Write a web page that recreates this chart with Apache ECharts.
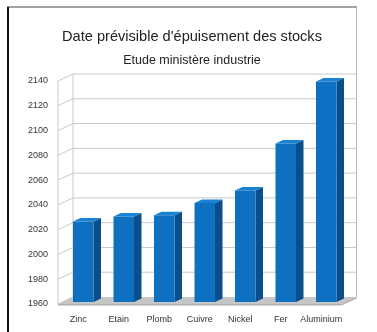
<!DOCTYPE html>
<html><head><meta charset="utf-8">
<script src="https://cdn.jsdelivr.net/npm/echarts@6/dist/echarts.min.js"></script>
<style>html,body{margin:0;padding:0;background:#fff}#c{width:377px;height:332px}</style>
</head><body><div id="c"></div>
<script>
const titleText = "Date prévisible d'épuisement des stocks";
const subtitleText = "Etude ministère industrie";
const categories = ['Zinc', 'Etain', 'Plomb', 'Cuivre', 'Nickel', 'Fer', 'Aluminium'];
const values = [2025, 2029, 2030, 2040, 2050, 2088, 2138];
const yTicks = [1960, 1980, 2000, 2020, 2040, 2060, 2080, 2100, 2120, 2140];

const FONT = 'Liberation Sans, Arial, sans-serif';
const WD = [15, -7];   // wall depth offset
const BF = [5, -2];    // bar front plane offset
const BD = [7.5, -3.5]; // bar depth
const yMin = yTicks[0], yMax = yTicks[yTicks.length - 1];

const chart = echarts.init(document.getElementById('c'), null, {renderer: 'canvas'});

function wallRender(params, api) {
  const cs = params.coordSys;
  const x0 = cs.x, x1 = cs.x + cs.width;
  const yB = api.coord([0, yMin])[1];
  const yT = api.coord([0, yMax])[1];
  const ch = [];
  const ls = {stroke: '#c9c9c9', lineWidth: 1};
  ch.push({type: 'polygon', shape: {points: [[x0, yB], [x1, yB], [x1 + WD[0], yB + WD[1]], [x0 + WD[0], yB + WD[1]]]},
    style: {fill: '#c6c6c6'}});
  ch.push({type: 'polygon', shape: {points: [[x0, yB], [x1, yB], [x1, yB + 1.5], [x0, yB + 1.5]]}, style: {fill: '#b0b0b0'}});
  ch.push({type: 'polygon', shape: {points: [[x1, yB], [x1 + WD[0], yB + WD[1]], [x1 + WD[0], yB + WD[1] + 1.5], [x1, yB + 1.5]]}, style: {fill: '#a8a8a8'}});
  ch.push({type: 'line', shape: {x1: x0, y1: yT, x2: x0, y2: yB}, style: ls});
  ch.push({type: 'line', shape: {x1: x0 + WD[0], y1: yT + WD[1], x2: x0 + WD[0], y2: yB + WD[1]}, style: ls});
  ch.push({type: 'line', shape: {x1: x1 + WD[0], y1: 7, x2: x1 + WD[0], y2: yB + WD[1]}, style: {stroke: '#b8b8b8', lineWidth: 1}});
  yTicks.forEach(function (t) {
    const y = api.coord([0, t])[1];
    ch.push({type: 'line', shape: {x1: x0, y1: y, x2: x0 + WD[0], y2: y + WD[1]}, style: ls});
    if (t > yMin) {
      ch.push({type: 'line', shape: {x1: x0 + WD[0], y1: y + WD[1], x2: x1 + WD[0], y2: y + WD[1]}, style: ls});
    }
  });
  return {type: 'group', children: ch};
}

function barRender(params, api) {
  const idx = api.value(0), v = api.value(1);
  const top = api.coord([idx, v]);
  const bot = api.coord([idx, yMin]);
  const band = api.size([1, 0])[0];
  const w = band * 0.506;
  const cx = top[0] + BF[0];
  const xl = cx - w / 2, xr = cx + w / 2;
  const yt = top[1] + BF[1], yb = bot[1] + BF[1];
  return {type: 'group', children: [
    {type: 'polygon', shape: {points: [[xr, yt], [xr + BD[0], yt + BD[1]], [xr + BD[0], yb + BD[1]], [xr, yb]]}, style: {fill: '#0a4e8c'}},
    {type: 'polygon', shape: {points: [[xl, yt], [xr, yt], [xr + BD[0], yt + BD[1]], [xl + BD[0], yt + BD[1]]]}, style: {fill: '#1a82d2'}},
    {type: 'rect', shape: {x: xl, y: yt, width: w, height: yb - yt}, style: {fill: '#0e70c0'}}
  ]};
}

chart.setOption({
  animation: false,
  backgroundColor: '#ffffff',
  grid: {left: 58, right: 35.5, top: 81, bottom: 28},
  xAxis: {
    type: 'category', data: categories,
    axisLine: {show: false}, axisTick: {show: false}, splitLine: {show: false},
    axisLabel: {fontSize: 9, color: '#333', margin: 11, fontFamily: FONT, interval: 0}
  },
  yAxis: {
    type: 'value', min: yMin, max: yMax, interval: 20,
    axisLine: {show: false}, axisTick: {show: false}, splitLine: {show: false},
    axisLabel: {fontSize: 9, color: '#333', margin: 10, fontFamily: FONT, formatter: function (v) { return String(v); }}
  },
  series: [
    {type: 'custom', renderItem: wallRender, data: [[0, yMin]], silent: true, z: 1, clip: false},
    {type: 'custom', renderItem: barRender, data: values.map(function (v, i) { return [i, v]; }), z: 2, clip: false}
  ],
  graphic: [
    {type: 'line', shape: {x1: 7, y1: 7, x2: 357, y2: 7}, style: {stroke: '#444', lineWidth: 1}},
    {type: 'line', shape: {x1: 8, y1: 7, x2: 8, y2: 332}, style: {stroke: '#111', lineWidth: 2}},
    {type: 'text', style: {x: 192, y: 37, text: titleText, textAlign: 'center', textVerticalAlign: 'middle', fontSize: 14.6, fill: '#222', fontFamily: FONT}},
    {type: 'text', style: {x: 192, y: 61, text: subtitleText, textAlign: 'center', textVerticalAlign: 'middle', fontSize: 12.5, fill: '#222', fontFamily: FONT}}
  ]
});
</script></body></html>
